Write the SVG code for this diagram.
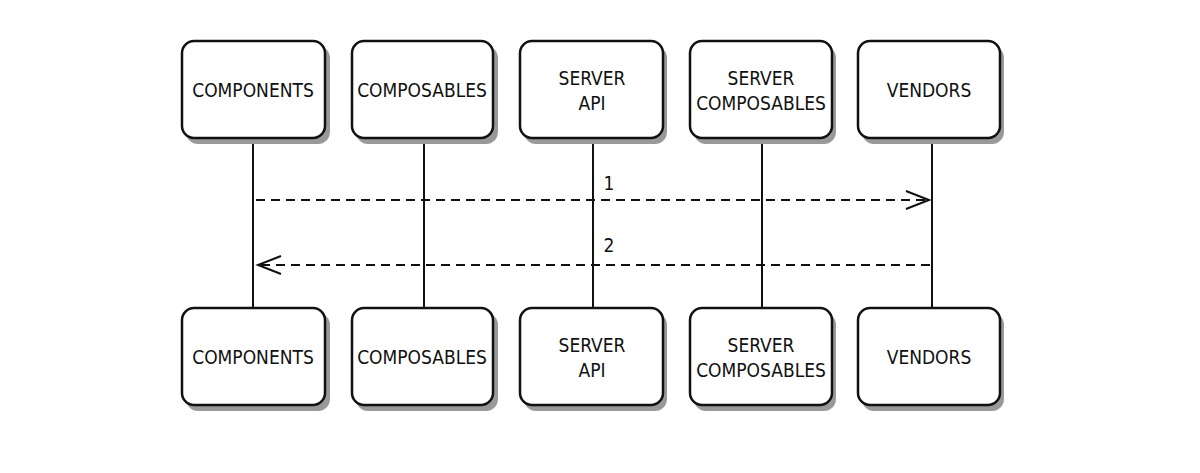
<svg xmlns="http://www.w3.org/2000/svg" width="1200" height="473" viewBox="0 0 1200 473">
<style>
.box{fill:#fff;stroke:#111;stroke-width:2.5}
.sh{fill:#999}
.t{font-family:"DejaVu Sans Condensed","DejaVu Sans",sans-serif;font-stretch:condensed;font-size:19px;fill:#111;text-anchor:middle}
.life{stroke:#111;stroke-width:2}
.msg{stroke:#111;stroke-width:2;stroke-dasharray:9 6;fill:none}
.hd{stroke:#111;stroke-width:2;fill:none}
</style>
<rect width="1200" height="473" fill="#fff"/>
<g id="connectors">
<line class="life" x1="253" y1="138" x2="253" y2="308"/>
<line class="life" x1="424" y1="138" x2="424" y2="308"/>
<line class="life" x1="593" y1="138" x2="593" y2="308"/>
<line class="life" x1="762" y1="138" x2="762" y2="308"/>
<line class="life" x1="932" y1="138" x2="932" y2="308"/>
<g id="m1"><line class="msg" x1="256" y1="200" x2="928" y2="200"/><polyline class="hd" points="906,191 929,200 906,209"/><text class="t" x="609" y="190">1</text></g>
<g id="m2"><line class="msg" x1="930" y1="265" x2="259" y2="265"/><polyline class="hd" points="281,256 258,265 281,274"/><text class="t" x="609" y="252">2</text></g>
</g>
<g id="top-components"><rect class="sh" x="186" y="46" width="144" height="98" rx="12"/><rect class="box" x="182" y="41" width="143" height="97" rx="12"/><text class="t" x="253" y="97">COMPONENTS</text></g>
<g id="top-composables"><rect class="sh" x="356" y="46" width="142" height="98" rx="12"/><rect class="box" x="352" y="41" width="141" height="97" rx="12"/><text class="t" x="422" y="97">COMPOSABLES</text></g>
<g id="top-serverapi"><rect class="sh" x="524" y="46" width="143" height="98" rx="12"/><rect class="box" x="520" y="41" width="143" height="97" rx="12"/><text class="t" x="592" y="85">SERVER</text><text class="t" x="592" y="110">API</text></g>
<g id="top-servercomposables"><rect class="sh" x="694" y="46" width="142" height="98" rx="12"/><rect class="box" x="690" y="41" width="142" height="97" rx="12"/><text class="t" x="761" y="85">SERVER</text><text class="t" x="761" y="110">COMPOSABLES</text></g>
<g id="top-vendors"><rect class="sh" x="862" y="46" width="142" height="98" rx="12"/><rect class="box" x="858" y="41" width="142" height="97" rx="12"/><text class="t" x="929" y="97">VENDORS</text></g>
<g id="bot-components"><rect class="sh" x="186" y="313" width="144" height="98" rx="12"/><rect class="box" x="182" y="308" width="143" height="97" rx="12"/><text class="t" x="253" y="364">COMPONENTS</text></g>
<g id="bot-composables"><rect class="sh" x="356" y="313" width="142" height="98" rx="12"/><rect class="box" x="352" y="308" width="141" height="97" rx="12"/><text class="t" x="422" y="364">COMPOSABLES</text></g>
<g id="bot-serverapi"><rect class="sh" x="524" y="313" width="143" height="98" rx="12"/><rect class="box" x="520" y="308" width="143" height="97" rx="12"/><text class="t" x="592" y="352">SERVER</text><text class="t" x="592" y="377">API</text></g>
<g id="bot-servercomposables"><rect class="sh" x="694" y="313" width="142" height="98" rx="12"/><rect class="box" x="690" y="308" width="142" height="97" rx="12"/><text class="t" x="761" y="352">SERVER</text><text class="t" x="761" y="377">COMPOSABLES</text></g>
<g id="bot-vendors"><rect class="sh" x="862" y="313" width="142" height="98" rx="12"/><rect class="box" x="858" y="308" width="142" height="97" rx="12"/><text class="t" x="929" y="364">VENDORS</text></g>
</svg>
